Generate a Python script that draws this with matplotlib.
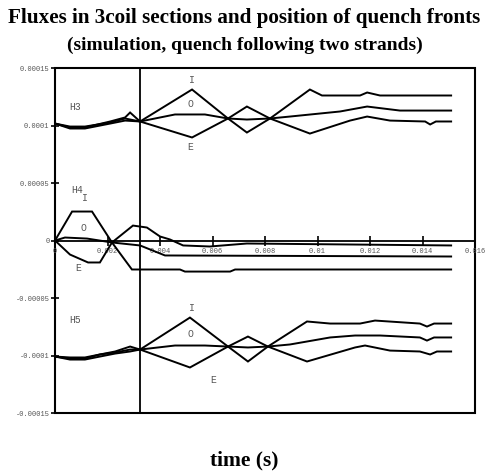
# Fluxes in 3 coil sections and position of quench fronts
import matplotlib
matplotlib.use("Agg")
import matplotlib.pyplot as plt
from matplotlib.patches import Rectangle

# ---- data (time in s, flux) ----
# section H3
h3_i_t = [0, 0.00057, 0.00114, 0.0021, 0.00267, 0.00286, 0.00324, 0.00522, 0.00659, 0.00731,
          0.00819, 0.00971, 0.01017, 0.01162, 0.01189, 0.01238, 0.01509]
h3_i = [1.017e-4, 0.983e-4, 0.983e-4, 1.035e-4, 1.070e-4, 1.113e-4, 1.035e-4, 1.313e-4, 1.061e-4, 0.939e-4,
        1.061e-4, 1.313e-4, 1.261e-4, 1.261e-4, 1.287e-4, 1.261e-4, 1.261e-4]
h3_o_t = [0, 0.00057, 0.00114, 0.0021, 0.00267, 0.00324, 0.00457, 0.00571, 0.00659, 0.00731,
          0.00819, 0.00895, 0.01086, 0.01189, 0.01314, 0.01509]
h3_o = [1.017e-4, 0.991e-4, 0.991e-4, 1.026e-4, 1.061e-4, 1.035e-4, 1.096e-4, 1.096e-4, 1.061e-4, 1.052e-4,
        1.061e-4, 1.078e-4, 1.122e-4, 1.165e-4, 1.130e-4, 1.130e-4]
h3_e_t = [0, 0.00057, 0.00114, 0.0021, 0.00267, 0.00324, 0.00522, 0.00659, 0.00731, 0.00819,
          0.00971, 0.01124, 0.01189, 0.01276, 0.0141, 0.01429, 0.01451, 0.01509]
h3_e = [1.017e-4, 0.974e-4, 0.974e-4, 1.017e-4, 1.043e-4, 1.035e-4, 0.896e-4, 1.061e-4, 1.165e-4, 1.061e-4,
        0.930e-4, 1.043e-4, 1.078e-4, 1.043e-4, 1.035e-4, 1.009e-4, 1.035e-4, 1.035e-4]

# section H4
h4_i_t = [0, 0.00065, 0.00141, 0.00217, 0.00293, 0.00476, 0.00495, 0.00667, 0.00686, 0.01509]
h4_i = [0, 0.252e-4, 0.252e-4, -0.017e-4, -0.252e-4, -0.252e-4, -0.270e-4, -0.270e-4, -0.252e-4, -0.252e-4]
h4_o_t = [0, 0.00038, 0.00122, 0.00217, 0.00324, 0.00419, 0.01509]
h4_o = [0, 0.026e-4, 0.017e-4, -0.017e-4, -0.043e-4, -0.130e-4, -0.139e-4]
h4_e_t = [0, 0.00057, 0.00126, 0.00171, 0.00217, 0.00297, 0.0035, 0.004, 0.00438, 0.00488,
          0.0059, 0.00731, 0.01509]
h4_e = [0, -0.122e-4, -0.191e-4, -0.191e-4, -0.017e-4, 0.130e-4, 0.113e-4, 0.035e-4, 0.009e-4, -0.043e-4,
        -0.052e-4, -0.026e-4, -0.043e-4]

# section H5
h5_i_t = [0, 0.00057, 0.00114, 0.00171, 0.00229, 0.00286, 0.00324, 0.00514, 0.00659, 0.00735,
          0.00811, 0.0096, 0.01048, 0.01162, 0.01219, 0.0139, 0.01417, 0.01444, 0.01509]
h5_i = [-1.009e-4, -1.026e-4, -1.026e-4, -0.991e-4, -0.965e-4, -0.922e-4, -0.948e-4, -0.670e-4, -0.922e-4, -1.052e-4,
        -0.922e-4, -0.704e-4, -0.722e-4, -0.722e-4, -0.696e-4, -0.722e-4, -0.748e-4, -0.722e-4, -0.722e-4]
h5_o_t = [0, 0.00057, 0.00114, 0.00171, 0.00229, 0.00286, 0.00324, 0.00457, 0.00571, 0.00659,
          0.00735, 0.00811, 0.00895, 0.01048, 0.01143, 0.01238, 0.0139, 0.01417, 0.01444, 0.01509]
h5_o = [-1.009e-4, -1.017e-4, -1.017e-4, -0.991e-4, -0.974e-4, -0.948e-4, -0.948e-4, -0.913e-4, -0.913e-4, -0.922e-4,
        -0.930e-4, -0.922e-4, -0.904e-4, -0.843e-4, -0.826e-4, -0.826e-4, -0.843e-4, -0.870e-4, -0.843e-4, -0.843e-4]
h5_e_t = [0, 0.00057, 0.00114, 0.00171, 0.00229, 0.00286, 0.00324, 0.00514, 0.00659, 0.00735,
          0.00811, 0.0096, 0.01143, 0.01181, 0.01276, 0.0139, 0.01429, 0.01455, 0.01509]
h5_e = [-1.009e-4, -1.035e-4, -1.035e-4, -1.009e-4, -0.983e-4, -0.965e-4, -0.948e-4, -1.104e-4, -0.922e-4, -0.835e-4,
        -0.922e-4, -1.052e-4, -0.930e-4, -0.913e-4, -0.957e-4, -0.965e-4, -0.991e-4, -0.965e-4, -0.965e-4]

# position of the quench front marker
quench_front_t = 0.00324

x_ticks = [0, 0.002, 0.004, 0.006, 0.008, 0.01, 0.012, 0.014, 0.016]
x_labels = ["0", "0.002", "0.004", "0.006", "0.008", "0.01", "0.012", "0.014", "0.016"]
y_ticks = [-0.00015, -0.0001, -0.00005, 0, 0.00005, 0.0001, 0.00015]
y_labels = ["-0.00015", "-0.0001", "-0.00005", "0", "0.00005", "0.0001", "0.00015"]

# ---- figure ----
fig = plt.figure(figsize=(4.89, 4.71), dpi=100)
ax = fig.add_axes([0.1125, 0.1231, 0.8589, 0.7325])

lw = 1.4
for t, f in [(h3_i_t, h3_i), (h3_o_t, h3_o), (h3_e_t, h3_e),
             (h4_i_t, h4_i), (h4_o_t, h4_o), (h4_e_t, h4_e),
             (h5_i_t, h5_i), (h5_o_t, h5_o), (h5_e_t, h5_e)]:
    ax.plot(t, f, color="black", lw=lw, solid_joinstyle="miter")

ax.axvline(quench_front_t, color="black", lw=1.3)

ax.set_xlim(0, 0.016)
ax.set_ylim(-0.00015, 0.00015)

# x axis drawn through zero, frame drawn as a box
for s in ["top", "right", "left"]:
    ax.spines[s].set_visible(False)
ax.spines["bottom"].set_position(("data", 0))
ax.spines["bottom"].set_linewidth(1.3)
ax.add_patch(Rectangle((0, 0), 1, 1, transform=ax.transAxes, fill=False,
                       lw=1.5, edgecolor="black", clip_on=False))

tick_font = dict(family="Liberation Mono", size=5, color="#555555")
ax.set_xticks(x_ticks)
ax.set_xticklabels(x_labels, **tick_font)
ax.set_yticks(y_ticks)
ax.set_yticklabels(y_labels, **tick_font)
ax.tick_params(axis="x", direction="inout", length=7, width=1.2, pad=2)
ax.tick_params(axis="y", direction="inout", length=6, width=1.2, pad=1)

# curve labels
lab = dict(family="Liberation Mono", size=7, color="#555555", ha="center", va="center")
ax.text(0.00076, 1.157e-4, "H3", **lab)
ax.text(0.00522, 1.40e-4, "I", **lab)
ax.text(0.00514, 1.183e-4, "O", **lab)
ax.text(0.00514, 0.809e-4, "E", **lab)
ax.text(0.00084, 0.443e-4, "H4", **lab)
ax.text(0.00114, 0.374e-4, "I", **lab)
ax.text(0.00107, 0.113e-4, "O", **lab)
ax.text(0.00088, -0.235e-4, "E", **lab)
ax.text(0.00076, -0.687e-4, "H5", **lab)
ax.text(0.00522, -0.591e-4, "I", **lab)
ax.text(0.00514, -0.817e-4, "O", **lab)
ax.text(0.00602, -1.209e-4, "E", **lab)

# titles
title_font = dict(family="Liberation Serif", weight="bold", ha="center", va="center")
fig.text(0.5, 1 - 18 / 471, "Fluxes in 3coil sections and position of quench fronts", size=15.2, **title_font)
fig.text(0.5, 1 - 45 / 471, "(simulation, quench following two strands)", size=14, **title_font)
fig.text(0.5, 1 - 460 / 471, "time (s)", size=15.5, **title_font)

plt.savefig("out.png", dpi=100)
